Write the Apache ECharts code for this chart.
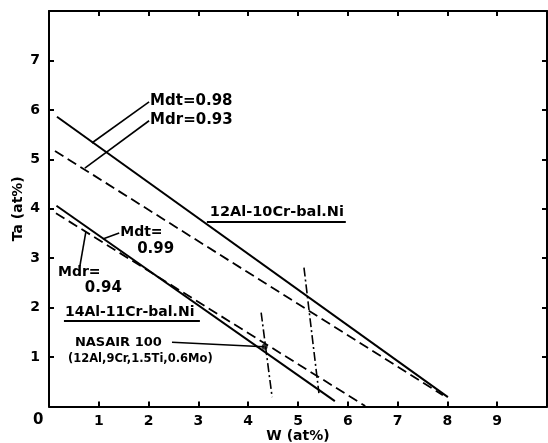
<!DOCTYPE html>
<html>
<head>
<meta charset="utf-8">
<script src="https://cdn.jsdelivr.net/npm/echarts@6/dist/echarts.min.js"></script>
<style>
html,body{margin:0;padding:0;background:#fff;}
#c{width:548px;height:443px;}
</style>
</head>
<body>
<div id="c"></div>
<script>
// ---- data (W at%, Ta at%) ----
const xTicks = [0,1,2,3,4,5,6,7,8,9,10];
const yTicks = [0,1,2,3,4,5,6,7,8];
const upperSolid = [[0.16,5.86],[8.01,0.19]];      // 12Al-10Cr-bal.Ni, Mdt=0.98
const upperDashed = [[0.12,5.17],[7.91,0.23]];     // 12Al-10Cr-bal.Ni, Mdr=0.93
const lowerSolid = [[0.15,4.06],[5.74,0.11]];      // 14Al-11Cr-bal.Ni, Mdt=0.99
const lowerDashed = [[0.14,3.91],[6.35,0.01]];     // 14Al-11Cr-bal.Ni, Mdr=0.94
const dashDot1 = [[4.26,1.90],[4.48,0.19]];
const dashDot2 = [[5.12,2.81],[5.42,0.27]];
const nasairPoint = [[4.33,1.21]];
// annotation leader lines
const leaderMdt098 = [[2.01,6.16],[0.86,5.33]];
const leaderMdr093 = [[2.01,5.78],[0.72,4.82]];
const leaderMdt099 = [[1.41,3.51],[1.08,3.39]];
const leaderMdr094 = [[0.62,2.84],[0.74,3.53]];
const leaderNasair = [[2.47,1.30],[4.32,1.21]];
const underline12Al = [[3.17,3.73],[5.96,3.73]];
const underline14Al = [[0.30,1.73],[3.03,1.73]];
// annotation texts [text, x, y, fontSize]
const labels = [
  ['Mdt=0.98', 2.03, 6.18, 15],
  ['Mdr=0.93', 2.03, 5.80, 15],
  ['12Al-10Cr-bal.Ni', 3.23, 3.92, 14.5],
  ['Mdt=', 1.43, 3.53, 14],
  ['0.99', 1.77, 3.19, 15],
  ['Mdr=', 0.18, 2.72, 14],
  ['0.94', 0.72, 2.40, 15],
  ['14Al-11Cr-bal.Ni', 0.32, 1.90, 14],
  ['NASAIR 100', 0.52, 1.30, 13],
  ['(12Al,9Cr,1.5Ti,0.6Mo)', 0.38, 0.96, 11.5],
  ['0', -0.32, -0.28, 15]
];

const FONT = 'DejaVu Sans';
const chart = echarts.init(document.getElementById('c'), null, {renderer:'canvas'});

function seg(data, type, width) {
  return {type:'line', data:data, symbol:'none', silent:true,
    lineStyle:{color:'#000', width:width||2, type:type||'solid'}, z:3};
}
const axisLine = {show:true, onZero:false, lineStyle:{color:'#000', width:2}};
const tick = {show:true, inside:true, length:5, lineStyle:{color:'#000', width:2}};
const option = {
  animation:false,
  backgroundColor:'#fff',
  grid:{left:49, top:11, width:498, height:395.5, outerBoundsMode:'none', containLabel:false},
  xAxis:[
    {type:'value', min:0, max:10, interval:1, position:'bottom',
     axisLine:axisLine, axisTick:tick,
     splitLine:{show:false},
     axisLabel:{margin:8, color:'#000', fontFamily:FONT, fontWeight:'bold', fontSize:14,
       formatter:v => (v===0||v===10)?'':String(v)},
     name:'W (at%)', nameLocation:'middle', nameGap:23, nameMoveOverlap:false,
     nameTextStyle:{color:'#000', fontFamily:FONT, fontWeight:'bold', fontSize:14}},
    {type:'value', min:0, max:10, interval:1, position:'top',
     axisLine:axisLine, axisTick:tick,
     splitLine:{show:false}, axisLabel:{show:false}}
  ],
  yAxis:[
    {type:'value', min:0, max:8, interval:1, position:'left',
     axisLine:axisLine, axisTick:tick,
     splitLine:{show:false},
     axisLabel:{margin:9, color:'#000', fontFamily:FONT, fontWeight:'bold', fontSize:14,
       formatter:v => (v===0||v===8)?'':String(v)},
     name:'Ta (at%)', nameLocation:'middle', nameGap:24, nameRotate:90, nameMoveOverlap:false,
     nameTextStyle:{color:'#000', fontFamily:FONT, fontWeight:'bold', fontSize:14}},
    {type:'value', min:0, max:8, interval:1, position:'right',
     axisLine:axisLine, axisTick:tick,
     splitLine:{show:false}, axisLabel:{show:false}}
  ],
  series:[
    seg(upperSolid,'solid',2),
    seg(upperDashed,[10,5],1.8),
    seg(lowerSolid,'solid',2),
    seg(lowerDashed,[10,5],1.8),
    seg(dashDot1,[9,3,2,3],1.6),
    seg(dashDot2,[9,3,2,3],1.6),
    seg(leaderMdt098,'solid',1.6),
    seg(leaderMdr093,'solid',1.6),
    seg(leaderMdt099,'solid',1.6),
    seg(leaderMdr094,'solid',1.6),
    seg(leaderNasair,'solid',1.6),
    seg(underline12Al,'solid',2),
    seg(underline14Al,'solid',2),
    {type:'scatter', data:nasairPoint, symbol:'circle', symbolSize:6,
     itemStyle:{color:'#000'}, silent:true, z:4}
  ]
};
chart.setOption(option);

const graphics = labels.map(([t,x,y,fs]) => {
  const p = chart.convertToPixel({xAxisIndex:0, yAxisIndex:0}, [x,y]);
  return {type:'text', x:p[0], y:p[1], silent:true, z:10,
    style:{text:t, fill:'#000', font:'bold '+fs+'px "'+FONT+'"', textAlign:'left', textVerticalAlign:'middle'}};
});
chart.setOption({graphic:graphics});
</script>
</body>
</html>
